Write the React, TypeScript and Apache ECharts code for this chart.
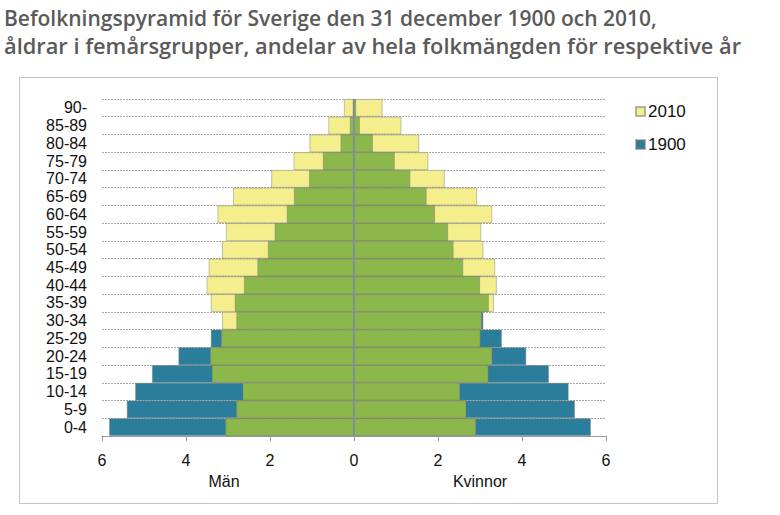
import React, { useEffect, useRef } from "react";
import * as echarts from "echarts";

const ages = ["0-4", "5-9", "10-14", "15-19", "20-24", "25-29", "30-34", "35-39", "40-44", "45-49", "50-54", "55-59", "60-64", "65-69", "70-74", "75-79", "80-84", "85-89", "90-"];
const men1900 = [5.83, 5.41, 5.21, 4.81, 4.18, 3.41, 2.80, 2.84, 2.62, 2.30, 2.05, 1.89, 1.60, 1.43, 1.07, 0.74, 0.32, 0.10, 0.03];
const men2010 = [3.06, 2.80, 2.65, 3.38, 3.42, 3.16, 3.14, 3.41, 3.51, 3.46, 3.14, 3.05, 3.25, 2.88, 1.97, 1.44, 1.06, 0.61, 0.24];
const women1900 = [5.64, 5.26, 5.11, 4.64, 4.10, 3.52, 3.08, 3.21, 3.00, 2.60, 2.37, 2.24, 1.93, 1.73, 1.34, 0.97, 0.45, 0.14, 0.05];
const women2010 = [2.90, 2.67, 2.52, 3.20, 3.29, 3.01, 3.04, 3.33, 3.40, 3.36, 3.08, 3.03, 3.29, 2.93, 2.16, 1.77, 1.55, 1.13, 0.68];
const xTicks = { min: -6, max: 6, interval: 2 };
const titleLines = [
  "Befolkningspyramid för Sverige den 31 december 1900 och 2010,",
  "åldrar i femårsgrupper, andelar av hela folkmängden för respektive år",
];

const C1900 = "#2b7e9b";
const C2010 = "#f4ee8c";
const COVER = "#8cb84b";

export default function App() {
  const ref = useRef<HTMLDivElement>(null);
  useEffect(() => {
    if (!ref.current) return;
    const chart = echarts.init(ref.current, undefined, { renderer: "svg" });
    const border = { borderColor: "rgba(120,120,120,0.55)", borderWidth: 0.8 };
    const barBase = {
      type: "bar",
      barGap: "-100%",
      barCategoryGap: "0%",
      silent: true,
    };
    const neg = (a: number[]) => a.map((v) => -v);
    const overlapMen = men1900.map((v, i) => -Math.min(v, men2010[i]));
    const overlapWomen = women1900.map((v, i) => Math.min(v, women2010[i]));
    const titleStyle = { fontFamily: "Open Sans", fontWeight: 600, fill: "#5a5a5a", textVerticalAlign: "middle" };
    chart.setOption({
      animation: false,
      legend: {
        data: ["2010", "1900"],
        orient: "vertical",
        left: 630,
        top: 98,
        itemWidth: 9,
        itemHeight: 9,
        itemGap: 16,
        icon: "rect",
        selectedMode: false,
        textStyle: { fontFamily: "Liberation Sans", fontSize: 17, color: "#111", lineHeight: 16, padding: [0, 0, 0, -2] },
      },
      grid: { left: 102, right: 174, top: 99, bottom: 79, containLabel: false },
      xAxis: {
        type: "value",
        min: xTicks.min,
        max: xTicks.max,
        interval: xTicks.interval,
        axisLine: { show: true, lineStyle: { color: "#9a9a9a", width: 1 } },
        axisTick: { show: true, length: 5, lineStyle: { color: "#9a9a9a" } },
        splitLine: { show: false },
        axisLabel: {
          margin: 16,
          fontFamily: "Liberation Sans",
          fontSize: 16,
          color: "#111",
          formatter: (v: number) => String(Math.abs(v)),
        },
      },
      yAxis: {
        type: "category",
        data: ages,
        axisLine: { show: false },
        axisTick: { show: false },
        splitLine: { show: true, interval: 0, lineStyle: { color: "#a8a8a8", type: [2, 1], width: 1 } },
        axisLabel: {
          interval: 0,
          margin: 15,
          fontFamily: "Liberation Sans",
          fontSize: 16,
          color: "#111",
          padding: [5, 0, 0, 0],
        },
      },
      series: [
        { ...barBase, name: "1900", data: neg(men1900), itemStyle: { color: C1900, ...border } },
        { ...barBase, name: "1900", data: women1900, itemStyle: { color: C1900, ...border } },
        { ...barBase, name: "2010", data: neg(men2010), itemStyle: { color: C2010, ...border } },
        { ...barBase, name: "2010", data: women2010, itemStyle: { color: C2010, ...border } },
        { ...barBase, name: "overlap", data: overlapMen, itemStyle: { color: COVER, ...border } },
        {
          ...barBase,
          name: "overlap",
          data: overlapWomen,
          itemStyle: { color: COVER, ...border },
          markLine: {
            silent: true,
            symbol: "none",
            label: { show: false },
            lineStyle: { color: "#7d8ea2", width: 1.5, type: "solid" },
            data: [{ xAxis: 0 }],
          },
        },
      ],
      graphic: [
        { type: "text", x: 4, y: 18, style: { ...titleStyle, text: titleLines[0], fontSize: 21 } },
        { type: "text", x: 4, y: 45, style: { ...titleStyle, text: titleLines[1], fontSize: 21.8 } },
        {
          type: "rect",
          shape: { x: 19.5, y: 77.5, width: 698, height: 426 },
          style: { fill: "none", stroke: "#c4c4c4", lineWidth: 1 },
          z: -10,
        },
        {
          type: "text",
          x: 224,
          y: 481,
          style: { text: "Män", fontFamily: "Liberation Sans", fontSize: 16, fill: "#111", textAlign: "center", textVerticalAlign: "middle" },
        },
        {
          type: "text",
          x: 480,
          y: 481,
          style: { text: "Kvinnor", fontFamily: "Liberation Sans", fontSize: 16, fill: "#111", textAlign: "center", textVerticalAlign: "middle" },
        },
      ],
    });
    return () => chart.dispose();
  }, []);
  return <div ref={ref} style={{ position: "fixed", left: 0, top: 0, width: 780, height: 515, background: "#fff" }} />;
}
